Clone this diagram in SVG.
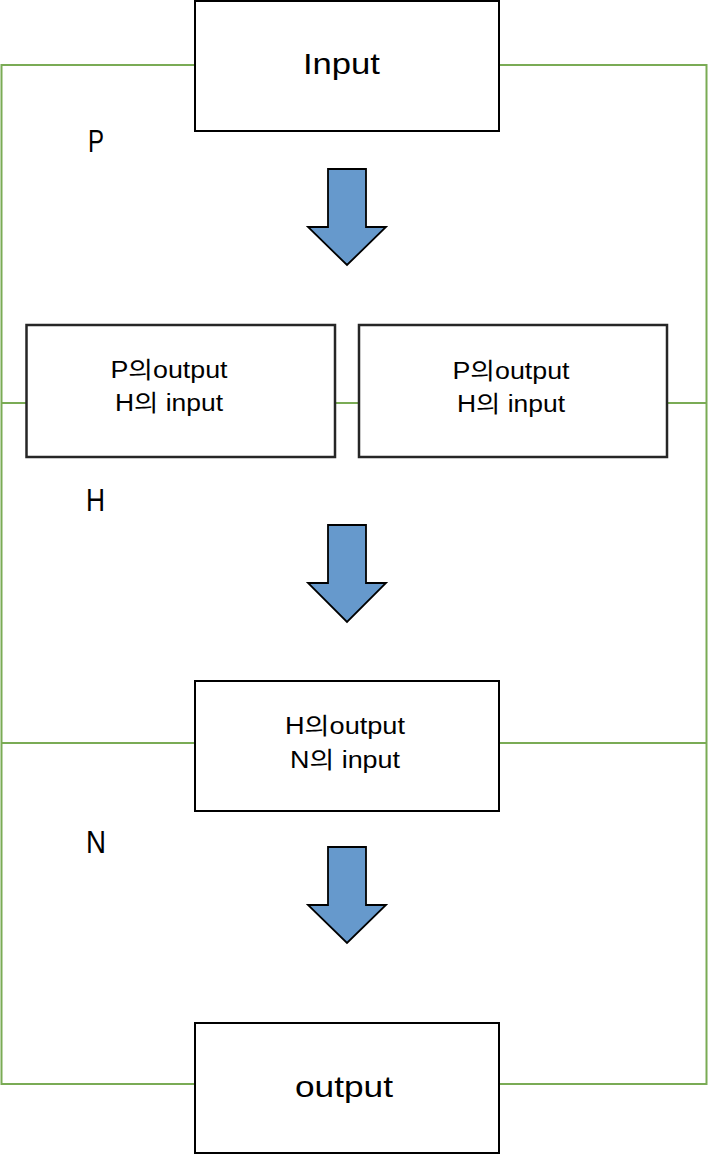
<svg xmlns="http://www.w3.org/2000/svg" width="708" height="1154" viewBox="0 0 708 1154">
  <defs>
    <style>
      .box { fill: #ffffff; stroke: #000000; stroke-width: 2; }
      .box2 { fill: #ffffff; stroke: #262626; stroke-width: 2.5; }
      .link { fill: none; stroke: #7aab55; stroke-width: 2; }
      .arrow { fill: #6699cc; stroke: #000000; stroke-width: 1.8; stroke-linejoin: miter; }
      .t { font-family: "Liberation Sans", "Noto Sans CJK KR", Arial, sans-serif; fill: #000000; }
      .big { font-size: 30px; }
      .mid { font-size: 23px; }
      .lab { font-size: 32px; }
    </style>
  </defs>
  <rect width="708" height="1154" fill="#ffffff"/>

  <g id="connectors">
    <polyline class="link" points="195,65 1.5,65 1.5,1084 195,1084"/>
    <polyline class="link" points="499,65 706.5,65 706.5,1084 499,1084"/>
    <line class="link" x1="1.5" y1="403" x2="26" y2="403"/>
    <line class="link" x1="335" y1="403" x2="359" y2="403"/>
    <line class="link" x1="667" y1="403" x2="706.5" y2="403"/>
    <line class="link" x1="1.5" y1="743" x2="195" y2="743"/>
    <line class="link" x1="499" y1="743" x2="706.5" y2="743"/>
  </g>

  <g id="node-input">
    <rect class="box" x="195" y="1" width="304" height="130"/>
    <text class="t big" x="303" y="74" textLength="77" lengthAdjust="spacingAndGlyphs">Input</text>
  </g>

  <g id="label-p">
    <text class="t lab" x="88" y="152" textLength="16" lengthAdjust="spacingAndGlyphs">P</text>
  </g>

  <g id="arrow-1">
    <polygon class="arrow" points="328,169 366,169 366,227 386,227 347,265 308,227 328,227"/>
  </g>

  <g id="node-p-out-1">
    <rect class="box2" x="26.5" y="325" width="308.5" height="132"/>
    <text class="t mid" x="169" y="378" text-anchor="middle" textLength="117" lengthAdjust="spacingAndGlyphs">P의output</text>
    <text class="t mid" x="169" y="411" text-anchor="middle" textLength="108" lengthAdjust="spacingAndGlyphs">H의 input</text>
  </g>

  <g id="node-p-out-2">
    <rect class="box2" x="359" y="325" width="308" height="132"/>
    <text class="t mid" x="511" y="379" text-anchor="middle" textLength="117" lengthAdjust="spacingAndGlyphs">P의output</text>
    <text class="t mid" x="511" y="412" text-anchor="middle" textLength="108" lengthAdjust="spacingAndGlyphs">H의 input</text>
  </g>

  <g id="label-h">
    <text class="t lab" x="86" y="511" textLength="19" lengthAdjust="spacingAndGlyphs">H</text>
  </g>

  <g id="arrow-2">
    <polygon class="arrow" points="328,525 366,525 366,583 386,583 347,622 308,583 328,583"/>
  </g>

  <g id="node-h-out">
    <rect class="box" x="195" y="681" width="304" height="130"/>
    <text class="t mid" x="345" y="734" text-anchor="middle" textLength="120" lengthAdjust="spacingAndGlyphs">H의output</text>
    <text class="t mid" x="345" y="768" text-anchor="middle" textLength="110" lengthAdjust="spacingAndGlyphs">N의 input</text>
  </g>

  <g id="label-n">
    <text class="t lab" x="86" y="853" textLength="20" lengthAdjust="spacingAndGlyphs">N</text>
  </g>

  <g id="arrow-3">
    <polygon class="arrow" points="328,847 366,847 366,905 386,905 347,943 308,905 328,905"/>
  </g>

  <g id="node-output">
    <rect class="box" x="195" y="1023" width="304" height="130"/>
    <text class="t big" x="295" y="1097" textLength="98" lengthAdjust="spacingAndGlyphs">output</text>
  </g>
</svg>
